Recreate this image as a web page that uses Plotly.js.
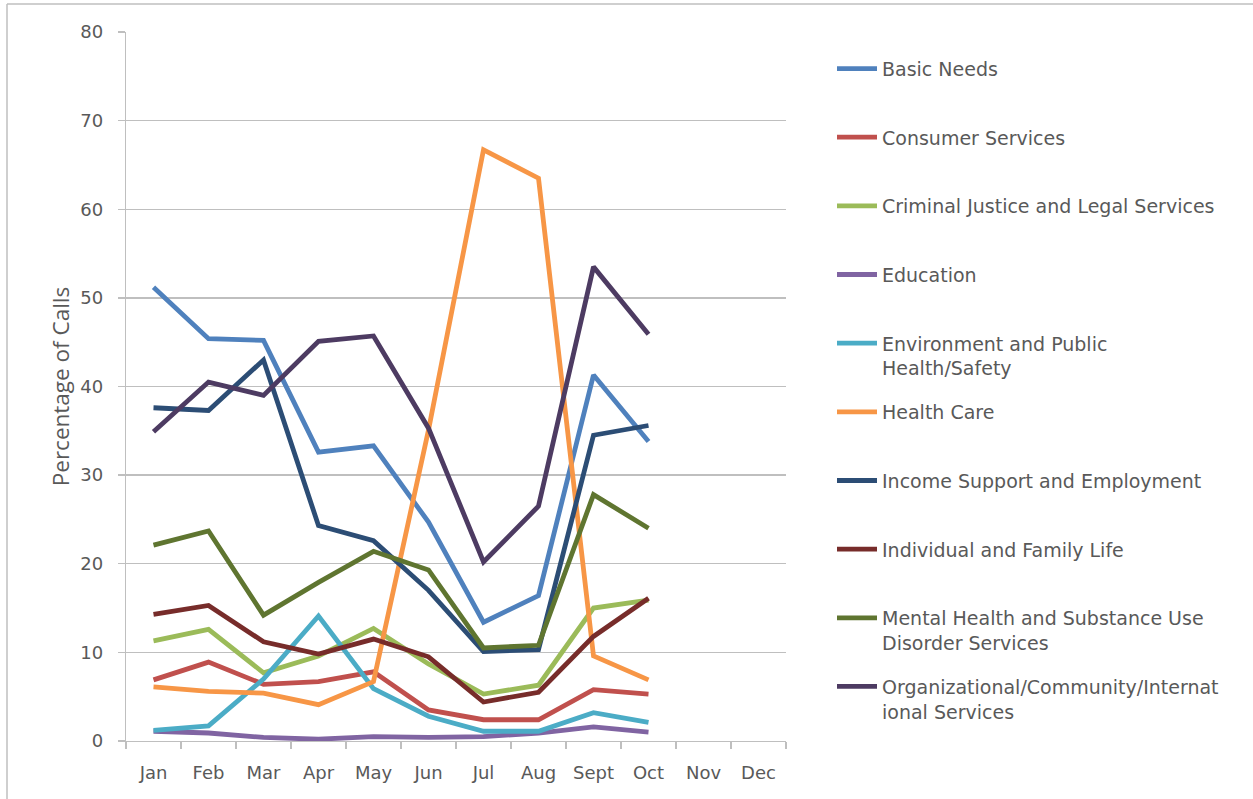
<!DOCTYPE html>
<html>
<head>
<meta charset="utf-8">
<script src="https://cdn.plot.ly/plotly-3.0.1.min.js"></script>
<style>html,body{margin:0;padding:0;background:#fff;}#chart{width:1253px;height:799px;}</style>
</head>
<body>
<div id="chart"></div>
<script>
const months = ["Jan","Feb","Mar","Apr","May","Jun","Jul","Aug","Sept","Oct","Nov","Dec"];
const seriesNames = [
  "Basic Needs",
  "Consumer Services",
  "Criminal Justice and Legal Services",
  "Education",
  "Environment and Public<br>Health/Safety",
  "Health Care",
  "Income Support and Employment",
  "Individual and Family Life",
  "Mental Health and Substance Use<br>Disorder Services",
  "Organizational/Community/Internat<br>ional Services"
];
const colors = ["#4F81BD","#C0504D","#9BBB59","#8064A2","#4BACC6","#F79646","#2C4D75","#772C2A","#5F7530","#4D3B62"];

const basicNeeds     = [51.2, 45.4, 45.2, 32.6, 33.3, 24.7, 13.4, 16.4, 41.3, 33.8];
const consumer       = [6.9, 8.9, 6.4, 6.7, 7.8, 3.5, 2.4, 2.4, 5.8, 5.3];
const criminal       = [11.3, 12.6, 7.7, 9.6, 12.7, 8.7, 5.3, 6.3, 15.0, 15.9];
const education      = [1.1, 0.9, 0.4, 0.2, 0.5, 0.4, 0.5, 0.9, 1.6, 1.0];
const environment    = [1.2, 1.7, 7.0, 14.1, 5.9, 2.8, 1.1, 1.1, 3.2, 2.1];
const healthCare     = [6.1, 5.6, 5.4, 4.1, 6.7, 35.1, 66.7, 63.5, 9.6, 6.9];
const income         = [37.6, 37.3, 43.0, 24.3, 22.6, 17.0, 10.1, 10.3, 34.5, 35.6];
const individual     = [14.3, 15.3, 11.2, 9.8, 11.5, 9.5, 4.4, 5.5, 11.8, 16.1];
const mental         = [22.1, 23.7, 14.2, 17.9, 21.4, 19.3, 10.5, 10.8, 27.8, 24.0];
const organizational = [34.9, 40.5, 39.0, 45.1, 45.7, 35.3, 20.2, 26.5, 53.5, 45.9];

const allSeries = [basicNeeds, consumer, criminal, education, environment, healthCare, income, individual, mental, organizational];

const traces = allSeries.map((vals, i) => ({
  x: months.slice(0, vals.length),
  y: vals,
  type: "scatter",
  mode: "lines",
  name: seriesNames[i].includes("<br>") ? seriesNames[i] : seriesNames[i] + "<br> ",
  legendgroup: "g" + i,
  line: {color: colors[i], width: 4.8},
  hoverinfo: "x+y"
}));

const fontFam = "'DejaVu Sans', 'Open Sans', sans-serif";
const layout = {
  width: 1253, height: 799,
  margin: {l: 126, r: 467, t: 32, b: 58},
  paper_bgcolor: "#ffffff", plot_bgcolor: "#ffffff",
  font: {family: fontFam, size: 18, color: "#595959"},
  showlegend: true,
  legend: {
    x: 1.0697, xanchor: "left", y: 0.975, yanchor: "top",
    traceorder: "grouped", tracegroupgap: 16.25, valign: "top",
    font: {family: fontFam, size: 19, color: "#595959"},
    itemwidth: 40, bgcolor: "rgba(0,0,0,0)"
  },
  xaxis: {
    type: "category", categoryorder: "array", categoryarray: months,
    range: [-0.5, 11.5], tickson: "boundaries",
    ticks: "outside", ticklen: 7, tickcolor: "#BFBFBF", tickwidth: 1.3,
    showline: true, linecolor: "#BFBFBF", linewidth: 1.3,
    showgrid: false, zeroline: false, ticklabelstandoff: 15,
    tickfont: {family: fontFam, size: 18, color: "#595959"}
  },
  yaxis: {
    range: [0, 80], dtick: 10, tick0: 0,
    ticks: "outside", ticklen: 7, tickcolor: "#BFBFBF", tickwidth: 1.3,
    showline: true, linecolor: "#BFBFBF", linewidth: 1.3,
    showgrid: true, gridcolor: "#BFBFBF", gridwidth: 1.3,
    zeroline: false, ticklabelstandoff: 11,
    tickfont: {family: fontFam, size: 18, color: "#595959"},
    title: {text: "Percentage of Calls", standoff: 4, font: {family: "'Open Sans', sans-serif", size: 22.5, color: "#595959"}}
  },
  shapes: [
    {type: "line", xref: "paper", yref: "paper", x0: -0.1803, x1: -0.1803, y0: 1.0395, y1: -0.09, line: {color: "#BFBFBF", width: 1.5}},
    {type: "line", xref: "paper", yref: "paper", x0: -0.1803, x1: 1.72, y0: 1.0395, y1: 1.0395, line: {color: "#BFBFBF", width: 1.5}}
  ]
};

Plotly.newPlot("chart", traces, layout, {displayModeBar: false, staticPlot: true});
</script>
</body>
</html>
